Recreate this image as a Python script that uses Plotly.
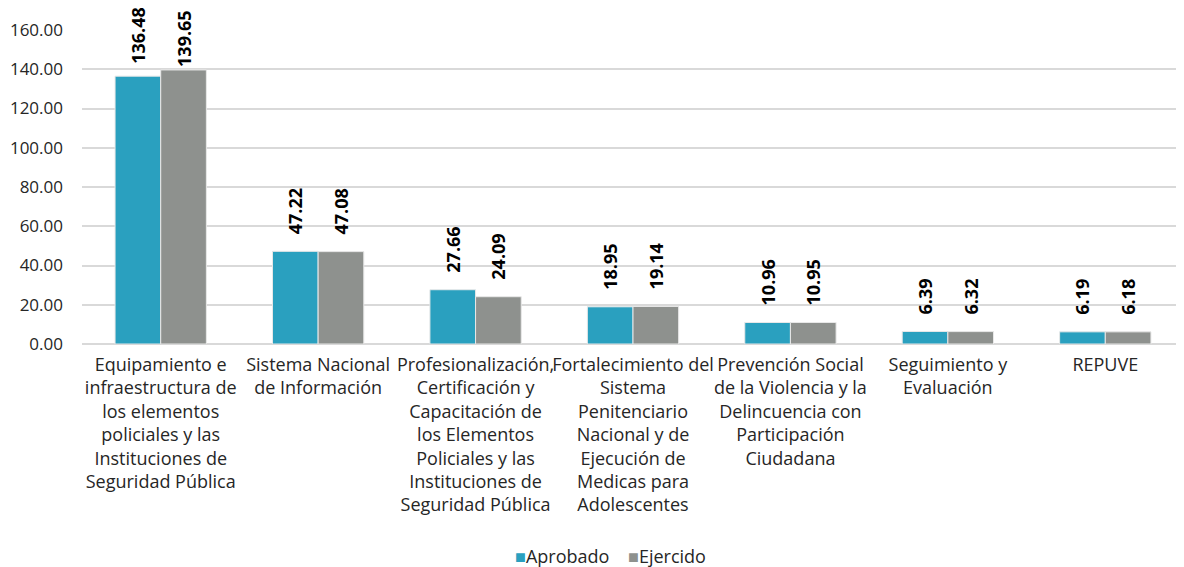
import plotly.graph_objects as go

categorias = [
    "Equipamiento e<br>infraestructura de<br>los elementos<br>policiales y las<br>Instituciones de<br>Seguridad Pública",
    "Sistema Nacional<br>de Información",
    "Profesionalización,<br>Certificación y<br>Capacitación de<br>los Elementos<br>Policiales y las<br>Instituciones de<br>Seguridad Pública",
    "Fortalecimiento del<br>Sistema<br>Penitenciario<br>Nacional y de<br>Ejecución de<br>Medicas para<br>Adolescentes",
    "Prevención Social<br>de la Violencia y la<br>Delincuencia con<br>Participación<br>Ciudadana",
    "Seguimiento y<br>Evaluación",
    "REPUVE",
]
aprobado = [136.48, 47.22, 27.66, 18.95, 10.96, 6.39, 6.19]
ejercido = [139.65, 47.08, 24.09, 19.14, 10.95, 6.32, 6.18]
ticks_y = [0, 20, 40, 60, 80, 100, 120, 140, 160]

# label padding (nbsp count) between bar top and value label;
# the tallest group is squeezed so its labels stay inside the chart
pad_apr = [2, 3, 3, 3, 3, 3, 3]
pad_eje = [0, 3, 3, 3, 3, 3, 3]

FONT = "Open Sans, Noto Sans, sans-serif"
TXT = "#262626"
C_APR = "#2AA0BF"
C_EJE = "#8E918E"

fig = go.Figure()
for nombre, vals, pads, color in [("Aprobado", aprobado, pad_apr, C_APR),
                                  ("Ejercido", ejercido, pad_eje, C_EJE)]:
    fig.add_trace(go.Bar(
        name=nombre, x=categorias, y=vals,
        marker=dict(color=color, line=dict(color="#E8E8E8", width=1)),
        text=["\u00a0" * p + f"{v:.2f}" for v, p in zip(vals, pads)],
        textposition="outside", textangle=-90, constraintext="none",
        textfont=dict(family=FONT, size=18, color="#000000", weight="bold"),
        cliponaxis=False, showlegend=False,
    ))

# legend drawn as text so the squares sit close to the labels
fig.add_annotation(
    x=0.48, y=-0.675, xref="paper", yref="paper", showarrow=False,
    xanchor="center", yanchor="middle",
    text=(f"<span style='color:{C_APR}'>■</span>Aprobado"
          f"\u00a0\u00a0\u00a0\u00a0<span style='color:{C_EJE}'>■</span>Ejercido"),
    font=dict(family=FONT, size=18, color=TXT),
)

# page has an 8px body margin, so the figure is 8px smaller than the window
fig.update_layout(
    width=1176, height=559,
    margin=dict(l=74, r=0, t=22, b=223),
    plot_bgcolor="white", paper_bgcolor="white",
    barmode="group", bargap=0.42, bargroupgap=0,
    font=dict(family=FONT, size=17, color=TXT),
    showlegend=False,
)
fig.update_yaxes(
    range=[0, 160], tickvals=ticks_y, tickformat=".2f",
    showgrid=True, gridcolor="#D9D9D9", gridwidth=2,
    zeroline=True, zerolinecolor="#D9D9D9", zerolinewidth=2,
    showline=False, ticks="", tickfont=dict(size=17, color=TXT),
    automargin=False, ticklabelstandoff=18,
)
fig.update_xaxes(
    showline=False, ticks="", tickangle=0, tickfont=dict(size=18, color=TXT),
    automargin=False, ticklabelstandoff=8,
)

fig.write_html("out.html")
